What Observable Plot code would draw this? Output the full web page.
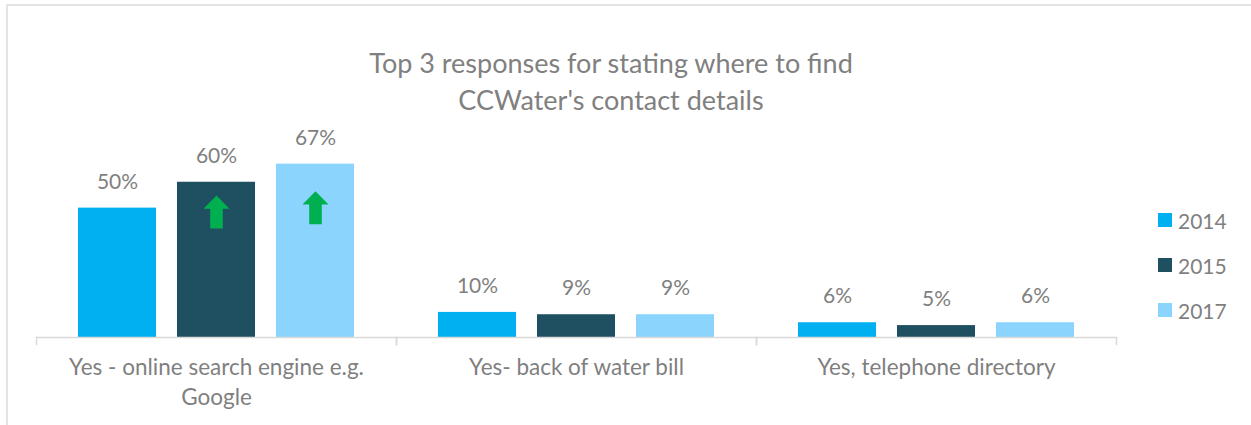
<!DOCTYPE html>
<html>
<head>
<meta charset="utf-8">
<script src="https://cdn.jsdelivr.net/npm/d3@7"></script>
<script src="https://cdn.jsdelivr.net/npm/@observablehq/plot@0.6"></script>
<style>
  html, body { margin: 0; padding: 0; background: #fff; }
  #wrap { position: relative; width: 1251px; height: 425px; overflow: hidden; font-family: Lato, "Open Sans", sans-serif; color: #7f7f7f; }
  #border { position: absolute; left: 6px; top: 4px; width: 1400px; height: 600px; border-left: 2px solid #e3e3e3; border-top: 2px solid #e3e3e3; }
  #title { position: absolute; left: 0; top: 44px; width: 1222px; text-align: center; font-size: 27px; line-height: 37px; color: #808080; }
  #chart { position: absolute; left: 0; top: 110px; }
  #legend { position: absolute; left: 1158px; top: 0; }
  .li { position: absolute; left: 0; height: 20px; display: flex; align-items: center; white-space: nowrap; font-size: 21px; }
  .sw { width: 14px; height: 14px; margin-right: 6px; }
</style>
</head>
<body>
<div id="wrap">
  <div id="border"></div>
  <div id="title"></div>
  <div id="chart"></div>
  <div id="legend"></div>
</div>
<script>
const titleLines = ["Top 3 responses for stating where to find", "CCWater's contact details"];
const categories = ["Yes - online search engine e.g. Google", "Yes- back of water bill", "Yes, telephone directory"];
const categoryLabels = ["Yes - online search engine e.g.\nGoogle", "Yes- back of water bill", "Yes, telephone directory"];
const years = ["2014", "2015", "2017"];
const colors = ["#00B0F0", "#1F5062", "#8AD4FE"];
const values2014 = [0.50, 0.097, 0.057];
const values2015 = [0.60, 0.088, 0.046];
const values2017 = [0.67, 0.088, 0.057];
// green "increase" arrows: series, category, and value where the arrow's tail sits
const arrowYears = ["2015", "2017"];
const arrowCats = [categories[0], categories[0]];
const arrowFrom = [0.421, 0.438];

const series = [values2014, values2015, values2017];
const data = [];
years.forEach((yr, j) => categories.forEach((c, i) => data.push({cat: c, year: yr, value: series[j][i]})));
const arrows = arrowYears.map((yr, i) => ({year: yr, cat: arrowCats[i], from: arrowFrom[i]}));

document.getElementById("title").innerHTML = titleLines.map(t => `<div>${t}</div>`).join("");

const upArrow = {
  draw(context, l) {
    const hw = 13, sw = 6.3, hh = 13.3;
    context.moveTo(-sw, 0);
    context.lineTo(-sw, -l + hh);
    context.lineTo(-hw, -l + hh);
    context.lineTo(0, -l);
    context.lineTo(hw, -l + hh);
    context.lineTo(sw, -l + hh);
    context.lineTo(sw, 0);
    context.closePath();
  }
};

const chart = Plot.plot({
  width: 1251,
  height: 315,
  marginLeft: 36,
  marginRight: 135,
  marginTop: 20,
  marginBottom: 88,
  style: {fontFamily: "Lato, 'Open Sans', sans-serif", fontSize: "21px", color: "#7f7f7f", background: "transparent"},
  fx: {domain: categories, padding: 0, axis: null},
  x: {domain: years, paddingInner: 0.217, paddingOuter: 0.41, axis: null},
  y: {domain: [0, 0.8], axis: null},
  color: {domain: years, range: colors},
  marks: [
    Plot.barY(data, {fx: "cat", x: "year", y: "value", fill: "year"}),
    Plot.ruleY([0], {stroke: "#d9d9d9", strokeWidth: 1.5}),
    Plot.frame({anchor: "left", stroke: "#d9d9d9", strokeWidth: 1.5, insetTop: 207, insetBottom: -7}),
    Plot.frame({anchor: "right", stroke: "#d9d9d9", strokeWidth: 1.5, insetTop: 207, insetBottom: -7}),
    Plot.text(data, {fx: "cat", x: "year", y: "value", text: d => d3.format(".0%")(d.value), dy: -26, fill: "#7f7f7f", fontSize: 21}),
    Plot.vector(arrows, {fx: "cat", x: "year", y: "from", length: 33, rotate: 0, anchor: "start", shape: upArrow, fill: "#00B050", stroke: "none"}),
    Plot.text(categories, {fx: d => d, text: (d, i) => categoryLabels[i], frameAnchor: "bottom", lineAnchor: "top", dy: 16, lineHeight: 1.33, fill: "#7f7f7f", fontSize: 22.5})
  ]
});
document.getElementById("chart").appendChild(chart);

const legend = document.getElementById("legend");
years.forEach((yr, i) => {
  const el = document.createElement("div");
  el.className = "li";
  el.style.top = (210 + i * 45) + "px";
  el.innerHTML = `<span class="sw" style="background:${colors[i]}"></span><span>${yr}</span>`;
  legend.appendChild(el);
});
</script>
</body>
</html>
